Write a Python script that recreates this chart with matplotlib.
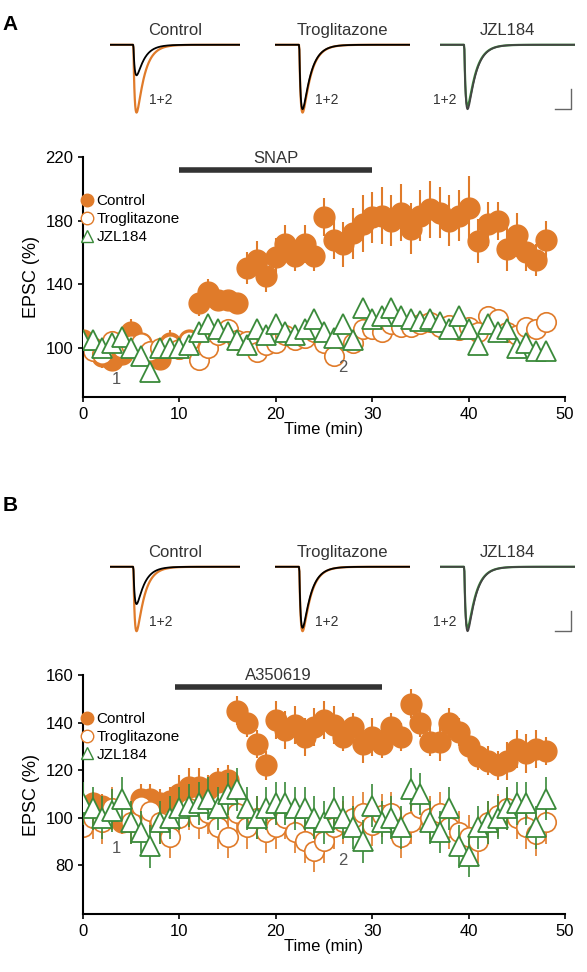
import numpy as np
import matplotlib
matplotlib.use("Agg")
import matplotlib.pyplot as plt
from matplotlib.lines import Line2D

ORANGE = "#e07b2a"; GREEN = "#3a8a3a"; GREY = "#444444"
t = list(range(49))
a_ctrl = [105,100,95,92,96,110,103,97,93,103,100,105,128,135,130,130,128,150,155,145,157,165,158,165,158,182,168,165,172,178,182,183,180,185,175,183,187,185,180,183,188,167,178,180,162,171,160,155,168]
a_ctrl_err = [6,6,8,6,6,8,8,8,6,8,6,6,8,8,6,6,6,10,12,10,12,12,10,12,10,12,12,14,16,18,16,18,16,18,16,16,18,16,16,16,20,14,14,12,14,14,12,10,12]
a_trog = [102,98,96,104,100,102,103,98,100,102,99,104,92,100,108,112,105,104,97,102,103,108,105,106,110,103,95,107,103,112,112,110,115,113,113,115,116,113,114,111,113,110,120,118,110,108,113,112,116]
a_jzl = [105,105,100,103,107,100,95,85,100,100,100,102,110,115,112,110,105,102,112,108,115,110,108,112,118,110,106,115,105,125,118,120,125,120,118,117,118,116,112,120,112,102,115,110,112,100,103,98,98]
a_err = [6]*49
b_ctrl = [105,106,105,102,98,100,108,108,106,107,110,113,113,112,115,116,145,140,131,122,141,137,139,134,138,141,139,134,138,131,134,131,138,134,148,140,132,132,140,136,130,126,124,122,124,129,127,129,128]
b_ctrl_err = [5,5,5,5,5,5,6,6,6,6,8,8,8,6,6,6,6,6,6,6,8,8,8,8,8,8,8,6,6,8,8,6,6,6,6,6,6,8,6,6,6,6,6,6,8,8,8,8,6]
b_trog = [96,100,98,104,102,98,105,103,98,92,100,104,100,102,96,92,102,96,100,94,96,100,94,90,86,90,96,98,100,102,97,101,102,92,98,104,100,102,96,94,92,90,98,101,104,100,96,93,98]
b_jzl = [106,104,100,103,108,98,94,88,98,100,104,105,106,108,104,110,112,104,100,104,106,106,104,104,100,98,104,100,96,90,105,98,100,96,112,110,98,94,104,88,84,96,98,100,104,106,106,96,108]
b_err = [9]*49
trace_amp = {"A": [(0.45, 1.0), (0.95, 1.0), (0.95, 0.9)], "B": [(0.55, 0.95), (0.9, 0.95), (0.95, 0.9)]}
trace_names = ["Control", "Troglitazone", "JZL184"]

fig = plt.figure(figsize=(5.87, 9.72), dpi=100)
plt.rcParams['font.family'] = ['Liberation Sans', 'DejaVu Sans']

def px(x0, y0, x1, y1):
    W, H = 587, 972
    return [x0/W, 1-y1/H, (x1-x0)/W, (y1-y0)/H]

def traces(panel, ytop):
    xs = [(110, 240), (275, 410), (440, 575)]
    tt = np.linspace(0, 1, 300)
    for i, (x0, x1) in enumerate(xs):
        ax = fig.add_axes(px(x0, ytop, x1, ytop + 78))
        ax.axis('off')
        on = tt > 0.18
        shape = np.where(on, (1-np.exp(-(tt-0.18)/0.015))*np.exp(-(tt-0.18)/0.06), 0)
        shape = shape/shape.max()
        a1, a2 = trace_amp[panel][i]
        c2 = [ORANGE, ORANGE, GREEN][i]
        ax.plot(tt, -a2*shape, color=c2, lw=1.6)
        ax.plot(tt, -a1*shape, color='black' if i < 2 else GREY, lw=1.3)
        ax.set_ylim(-1.05, 0.1); ax.set_xlim(0, 1)
        ax.text(0.3 if i < 2 else -0.05, 0.15, "1+2", transform=ax.transAxes, fontsize=10, color='#333333')
        ax.set_title(trace_names[i], fontsize=12, color='#333333', pad=2)
        if i == 2:
            ax.plot([0.85, 0.97, 0.97], [-0.95, -0.95, -0.65], color='#666666', lw=1)

def main(panel, box, ctrl, cerr, trog, jzl, err, ylim, yticks, bar, label, n1, n2):
    ax = fig.add_axes(px(*box))
    ax.errorbar(t, trog, yerr=err, fmt='o', ms=14, mfc='white', mec=ORANGE, ecolor=ORANGE, mew=1.2, elinewidth=1.2, zorder=2)
    ax.errorbar(t, jzl, yerr=err, fmt='^', ms=15, mfc='white', mec=GREEN, ecolor=GREEN, mew=1.3, elinewidth=1.2, zorder=3)
    ax.errorbar(t, ctrl, yerr=cerr, fmt='o', ms=15, color=ORANGE, ecolor=ORANGE, elinewidth=1.5, zorder=1)
    handles = [Line2D([], [], ls='', marker='o', ms=9, color=ORANGE),
               Line2D([], [], ls='', marker='o', ms=9, mfc='white', mec=ORANGE),
               Line2D([], [], ls='', marker='^', ms=9, mfc='white', mec=GREEN)]
    ax.legend(handles, ['Control', 'Troglitazone', 'JZL184'], loc='upper left', bbox_to_anchor=(-0.02, 0.87), frameon=False,
              fontsize=11, handletextpad=0.1, handlelength=1, labelspacing=0.25, borderaxespad=0)
    ax.set_xlim(0, 50); ax.set_ylim(*ylim)
    ax.set_yticks(yticks); ax.set_xticks([0,10,20,30,40,50])
    for s in ['top','right']: ax.spines[s].set_visible(False)
    for s in ['left','bottom']: ax.spines[s].set_linewidth(1.5)
    ax.tick_params(labelsize=12, width=1.2)
    ax.set_xlabel("Time (min)", fontsize=12, labelpad=0)
    ax.set_ylabel("EPSC (%)", fontsize=13)
    ax.plot(bar[:2], [bar[2]]*2, color='#333333', lw=4, clip_on=False, solid_capstyle='butt')
    ax.text(sum(bar[:2])/2, bar[2] + (ylim[1]-ylim[0])*0.015, label, ha='center', va='bottom', fontsize=12, color='#333333')
    ax.text(3.5, n1, "1", fontsize=12, color='#555555', ha='center')
    ax.text(27, n2, "2", fontsize=12, color='#555555', ha='center')

traces("A", 38)
main("A", (83, 157, 565, 397), a_ctrl, a_ctrl_err, a_trog, a_jzl, a_err, (69, 220), [100,140,180,220], (10, 30, 212), "SNAP", 77, 85)
traces("B", 560)
main("B", (83, 675, 565, 914), b_ctrl, b_ctrl_err, b_trog, b_jzl, b_err, (59.5, 160), [80,100,120,140,160], (9.5, 31, 155), "A350619", 85, 80)
fig.text(0.005, 0.985, "A", fontsize=15, fontweight='bold', va='top')
fig.text(0.005, 0.49, "B", fontsize=15, fontweight='bold', va='top')
fig.savefig("out.png", dpi=100)
